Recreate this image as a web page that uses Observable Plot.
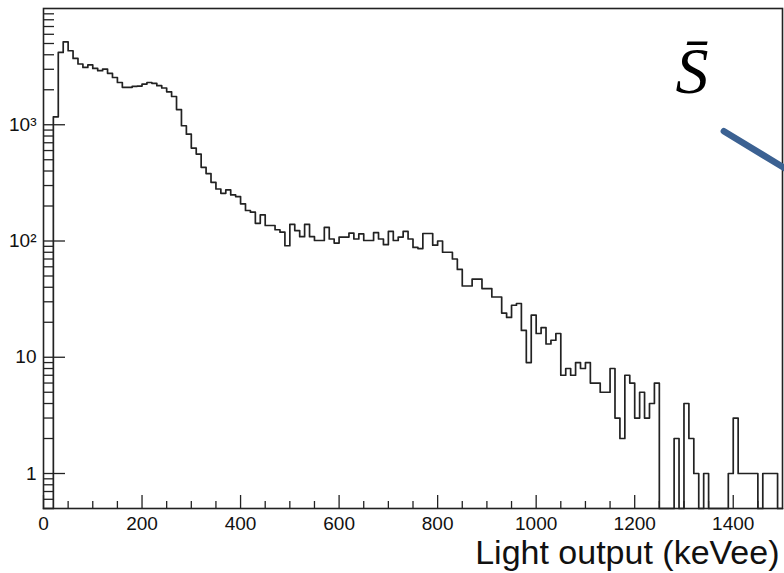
<!DOCTYPE html>
<html>
<head>
<meta charset="utf-8">
<script src="https://cdn.jsdelivr.net/npm/d3@7"></script>
<script src="https://cdn.jsdelivr.net/npm/@observablehq/plot@0.6"></script>
<style>
  html, body { margin: 0; padding: 0; background: #fff; }
  #chart svg { display: block; }
</style>
</head>
<body>
<div id="chart"></div>
<script>
// ---- Data ----
const binWidth = 10; // keVee per bin, 0 .. 1500
const counts = [
  0, 0, 1170, 4190, 5170, 4330, 3720, 3330, 3110, 3270,
  3050, 2920, 3010, 2770, 2550, 2310, 2100, 2100, 2140, 2150,
  2240, 2310, 2270, 2170, 2070, 1920, 1750, 1350, 980, 830,
  630, 560, 430, 380, 320, 280, 257, 275, 249, 241,
  209, 183, 177, 142, 168, 136, 136, 125, 119, 91,
  139, 123, 109, 139, 109, 101, 101, 131, 104, 96,
  108, 108, 117, 104, 115, 101, 101, 118, 104, 93,
  121, 101, 108, 121, 104, 88, 86, 116, 116, 92,
  100, 80, 80, 70, 57, 41, 41, 47, 47, 39,
  39, 33, 33, 24, 22, 28, 29, 17, 9, 23,
  16, 18, 13, 14, 16, 7, 8, 7, 9, 8,
  9, 6, 6, 5, 5, 8, 3, 2, 7, 6,
  3, 5, 3, 4, 6, 0, 0, 0, 2, 0,
  4, 2, 1, 0, 1, 0, 0, 0, 0, 1,
  3, 1, 1, 1, 1, 0, 1, 1, 1, 0
];
const xMajorTicks = [0, 200, 400, 600, 800, 1000, 1200, 1400];
const xMinorTicks = [50, 100, 150, 250, 300, 350, 450, 500, 550, 650, 700, 750,
  850, 900, 950, 1050, 1100, 1150, 1250, 1300, 1350, 1450];
const yMajorTicks = [1, 10, 100, 1000];
const yTickLabels = ["1", "10", "10²", "10³"];
const yMinorTicks = [0.6, 0.7, 0.8, 0.9,
  2, 3, 4, 5, 6, 7, 8, 9,
  20, 30, 40, 50, 60, 70, 80, 90,
  200, 300, 400, 500, 600, 700, 800, 900,
  2000, 3000, 4000, 5000, 6000, 7000, 8000, 9000];
const xTitle = "Light output (keVee)";
const annotationText = [{x: 1283, y: 1890, text: "S\u0304"}];
const arrowLine = [{x: 1381, y: 880}, {x: 1516, y: 395}];

// ---- Layout ----
const W = 784, H = 573;
const mL = 43, mR = 2, mT = 8, mB = 65;
const innerW = W - mL - mR, innerH = H - mT - mB;
const yMin = 0.5;

// step outline of the histogram: points at each bin start, plus the closing edge
const steps = counts.map((c, i) => ({x: i * binWidth, c}));
steps.push({x: counts.length * binWidth, c: counts[counts.length - 1]});

const ink = "#222";
const yLabelMap = new Map(yMajorTicks.map((v, i) => [v, yTickLabels[i]]));

const chart = Plot.plot({
  width: W, height: H,
  marginLeft: mL, marginRight: mR, marginTop: mT, marginBottom: mB,
  style: {fontFamily: "'Liberation Sans', Arial, Helvetica, sans-serif", background: "#fff", color: "#111"},
  x: {domain: [0, 1500]},
  y: {type: "log", domain: [yMin, 10000]},
  marks: [
    // inward ticks (ROOT style)
    Plot.ruleX(xMinorTicks, {x: d => d, insetTop: innerH - 7, stroke: ink, strokeWidth: 1.3}),
    Plot.ruleX(xMajorTicks, {x: d => d, insetTop: innerH - 13, stroke: ink, strokeWidth: 1.3}),
    Plot.ruleY(yMinorTicks, {y: d => d, insetRight: innerW - 11, stroke: ink, strokeWidth: 1.3}),
    Plot.ruleY(yMajorTicks, {y: d => d, insetRight: innerW - 22, stroke: ink, strokeWidth: 1.3}),
    Plot.axisX(xMajorTicks, {tickSize: 0, tickPadding: 8, fontSize: 19, tickFormat: d => String(d), label: null}),
    Plot.axisY(yMajorTicks, {tickSize: 0, tickPadding: 7, fontSize: 19, tickFormat: d => yLabelMap.get(d), label: null}),
    // histogram outline
    Plot.line(steps, {x: "x", y: d => Math.max(d.c, yMin), curve: "step-after", stroke: ink, strokeWidth: 1.7}),
    Plot.frame({stroke: ink, strokeWidth: 1.6}),
    // axis title
    Plot.text([xTitle], {frameAnchor: "bottom-right", text: d => d, textAnchor: "end", lineAnchor: "bottom",
      dx: -3, dy: 55, fontSize: 34, fill: "#111"}),
    // slide annotations
    Plot.text(annotationText, {x: "x", y: "y", text: "text", textAnchor: "start", lineAnchor: "bottom",
      fontSize: 66, fontStyle: "italic", fontFamily: "'Liberation Serif', 'DejaVu Serif', serif", fill: "#000"}),
    Plot.line(arrowLine, {x: "x", y: "y", stroke: "#3b6192", strokeWidth: 6.5, strokeLinecap: "round", clip: false})
  ]
});
document.getElementById("chart").appendChild(chart);
</script>
</body>
</html>
